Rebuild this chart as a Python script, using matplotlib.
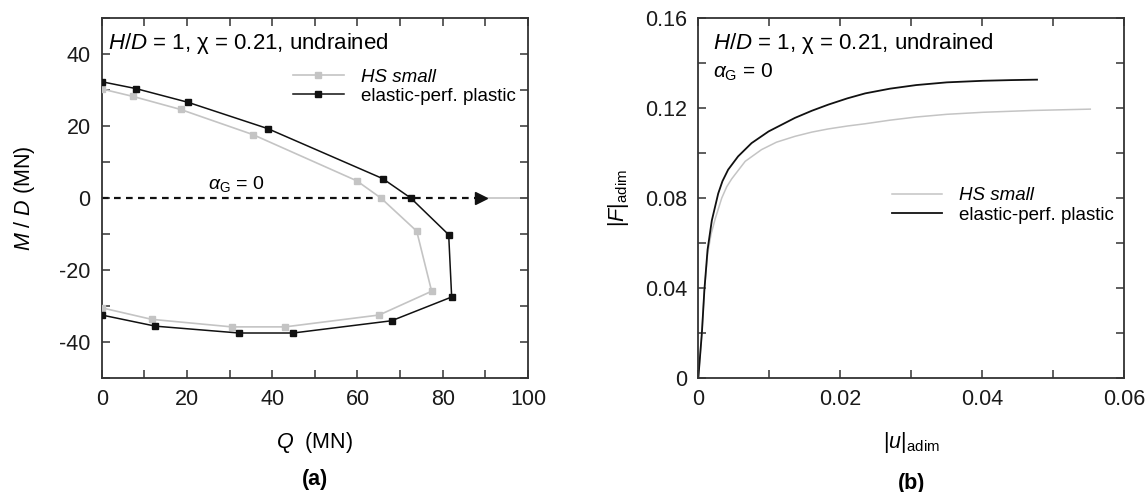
import matplotlib
matplotlib.use("Agg")
import matplotlib.pyplot as plt

plt.rcParams['font.family'] = ['Liberation Sans', 'DejaVu Sans']
plt.rcParams['mathtext.fontset'] = 'custom'
plt.rcParams['mathtext.rm'] = 'Liberation Sans'
plt.rcParams['mathtext.it'] = 'Liberation Sans:italic'
plt.rcParams['axes.unicode_minus'] = False

# (a) interaction diagram, Q (MN) vs M/D (MN)
hs_q = [0, 7.4, 18.5, 35.5, 59.8, 65.5, 73.9, 77.4, 65.1, 43.0, 30.5, 11.7, 0]
hs_m = [30.3, 28.2, 24.6, 17.6, 4.8, 0, -9.2, -25.9, -32.5, -35.8, -35.8, -33.7, -30.5]
ep_q = [0, 8.0, 20.2, 38.9, 65.9, 72.5, 81.4, 82.1, 68.0, 44.9, 32.2, 12.6, 0]
ep_m = [32.3, 30.4, 26.6, 19.3, 5.4, 0, -10.2, -27.5, -34.1, -37.5, -37.5, -35.6, -32.5]
arrow_q = [0, 89]
tail_q = [89, 100]

# (b) |F|adim vs |u|adim
ep_u = [0, 0.0005, 0.00085, 0.0013, 0.0019, 0.0028, 0.0034, 0.0042, 0.0056, 0.0075,
        0.0099, 0.0120, 0.0136, 0.0160, 0.0183, 0.0210, 0.0235, 0.0270, 0.0307,
        0.0350, 0.0401, 0.0440, 0.0477]
ep_f = [0, 0.020, 0.039, 0.057, 0.070, 0.082, 0.0875, 0.0926, 0.0985, 0.1044,
        0.1096, 0.1130, 0.1156, 0.1188, 0.1215, 0.1243, 0.1265, 0.1286, 0.1302,
        0.1314, 0.1321, 0.1324, 0.1326]
hs_u = [0, 0.0005, 0.00085, 0.0013, 0.0018, 0.0024, 0.0033, 0.0040, 0.0047, 0.0066,
        0.0089, 0.0110, 0.0136, 0.0160, 0.0183, 0.0210, 0.0235, 0.0270, 0.0307,
        0.0350, 0.0401, 0.0470, 0.0552]
hs_f = [0, 0.020, 0.039, 0.055, 0.064, 0.071, 0.080, 0.0850, 0.0885, 0.0963,
        0.1015, 0.1048, 0.1074, 0.1093, 0.1107, 0.1120, 0.1130, 0.1146, 0.1160,
        0.1172, 0.1181, 0.1189, 0.1195]

q_ticks = list(range(0, 101, 10))
q_labels = ['0', '', '20', '', '40', '', '60', '', '80', '', '100']
m_ticks = list(range(-50, 51, 10))
m_labels = ['', '-40', '', '-20', '', '0', '', '20', '', '40', '']
u_ticks = [0, 0.01, 0.02, 0.03, 0.04, 0.05, 0.06]
u_labels = ['0', '', '0.02', '', '0.04', '', '0.06']
f_ticks = [0, 0.02, 0.04, 0.06, 0.08, 0.10, 0.12, 0.14, 0.16]
f_labels = ['0', '', '0.04', '', '0.08', '', '0.12', '', '0.16']

GRAY = '#c4c4c4'
DARK = '#111111'
FS = 15.5

fig = plt.figure(figsize=(11.48, 4.92), dpi=100)
ax1 = fig.add_axes([0.0886, 0.2317, 0.3713, 0.7317])
ax2 = fig.add_axes([0.6083, 0.2317, 0.3711, 0.7317])


def style_axes(ax):
    for s in ax.spines.values():
        s.set_color('#333333')
        s.set_linewidth(1.3)
    ax.tick_params(direction='in', length=6, width=1.1, color='#333333',
                   top=True, right=True, labelsize=FS, labelcolor='#1a1a1a', pad=8)


# ---- panel (a)
ax1.plot(tail_q, [0, 0], color=GRAY, lw=1.2, zorder=1)
ax1.plot(arrow_q, [0, 0], color=DARK, lw=1.6, ls=(0, (3.0, 2.4)), zorder=2)
ax1.plot([arrow_q[1]], [0], marker='>', color=DARK, ms=9, zorder=2)
ax1.plot(hs_q, hs_m, color=GRAY, lw=1.2, marker='s', ms=4.2, label='HS small', zorder=3)
ax1.plot(ep_q, ep_m, color=DARK, lw=1.1, marker='s', ms=4.8,
         label='elastic-perf. plastic', zorder=4)
ax1.set_xlim(0, 100)
ax1.set_ylim(-50, 50)
ax1.set_xticks(q_ticks)
ax1.set_xticklabels(q_labels)
ax1.set_yticks(m_ticks)
ax1.set_yticklabels(m_labels)
style_axes(ax1)
ax1.set_xlabel(r'$Q$  (MN)', fontsize=FS, labelpad=14)
ax1.set_ylabel(r'$M$ / $D$ (MN)', fontsize=FS, labelpad=16)
ax1.text(0.015, 0.93, r'$H/D$ = 1, χ = 0.21, undrained', transform=ax1.transAxes,
         fontsize=16, va='center', ha='left')
ax1.text(31.5, 3.9, r'$\alpha_{\rm G}$ = 0', fontsize=14, ha='center', va='center')
leg1 = ax1.legend(loc='upper left', bbox_to_anchor=(0.449, 0.86), frameon=False,
                  fontsize=13.5, handlelength=2.7, handletextpad=0.9, borderpad=0,
                  borderaxespad=0, labelspacing=0.12)
leg1.get_texts()[0].set_fontstyle('italic')
fig.text(ax1.get_position().x0 + ax1.get_position().width / 2, 0.025, '(a)',
         fontsize=FS, fontweight='bold', ha='center', va='center')

# ---- panel (b)
ax2.plot(hs_u, hs_f, color=GRAY, lw=1.1, label='HS small')
ax2.plot(ep_u, ep_f, color=DARK, lw=1.3, label='elastic-perf. plastic')
ax2.set_xlim(0, 0.06)
ax2.set_ylim(0, 0.16)
ax2.set_xticks(u_ticks)
ax2.set_xticklabels(u_labels)
ax2.set_yticks(f_ticks)
ax2.set_yticklabels(f_labels)
style_axes(ax2)
ax2.set_xlabel(r'|$u$|$_{\rm adim}$', fontsize=FS, labelpad=14)
ax2.set_ylabel(r'|$F$|$_{\rm adim}$', fontsize=FS, labelpad=10)
ax2.text(0.035, 0.93, r'$H/D$ = 1, χ = 0.21, undrained', transform=ax2.transAxes,
         fontsize=16, va='center', ha='left')
ax2.text(0.035, 0.85, r'$\alpha_{\rm G}$ = 0', transform=ax2.transAxes,
         fontsize=15, va='center', ha='left')
leg2 = ax2.legend(loc='upper left', bbox_to_anchor=(0.454, 0.53), frameon=False,
                  fontsize=13.5, handlelength=2.7, handletextpad=0.9, borderpad=0,
                  borderaxespad=0, labelspacing=0.12)
leg2.get_texts()[0].set_fontstyle('italic')
fig.text(ax2.get_position().x0 + ax2.get_position().width / 2, 0.018, '(b)',
         fontsize=FS, fontweight='bold', ha='center', va='center')

fig.savefig('out.png', dpi=100)
